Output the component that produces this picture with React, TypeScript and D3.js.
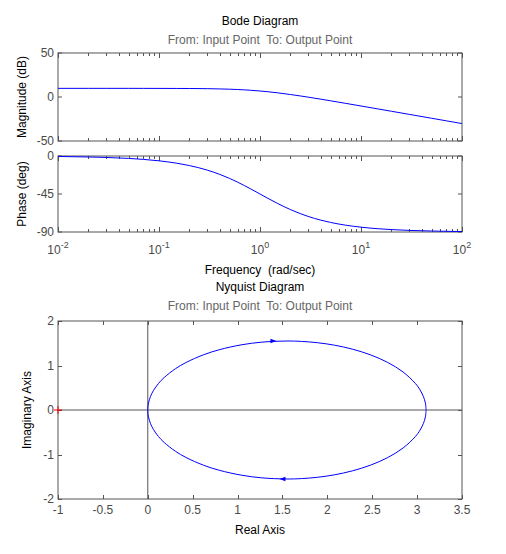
import React from "react";
import * as d3 from "d3";

// ---- Data ----
const freqs = [0.01, 0.02, 0.03, 0.05, 0.07, 0.1, 0.15, 0.2, 0.3, 0.4, 0.5, 0.6, 0.7, 0.8, 1, 1.2, 1.5, 2, 2.5, 3, 4, 5, 7, 10, 15, 20, 30, 50, 70, 100];
const magnitudeDb = [9.83, 9.83, 9.82, 9.82, 9.81, 9.78, 9.73, 9.66, 9.45, 9.18, 8.86, 8.49, 8.1, 7.68, 6.82, 5.95, 4.71, 2.84, 1.22, -0.17, -2.48, -4.32, -7.16, -10.22, -13.71, -16.2, -19.72, -24.15, -27.08, -30.17];
const phaseDeg = [-0.57, -1.15, -1.72, -2.86, -4.0, -5.71, -8.53, -11.31, -16.7, -21.8, -26.57, -30.96, -34.99, -38.66, -45, -50.19, -56.31, -63.43, -68.2, -71.57, -75.96, -78.69, -81.87, -84.29, -86.19, -87.14, -88.09, -88.85, -89.18, -89.43];

// Nyquist, positive frequencies (lower half)
const nyqReal = [3.1, 3.0923, 3.0693, 3.0318, 2.9808, 2.844, 2.6724, 2.48, 2.2794, 2.0805, 1.8902, 1.7127, 1.55, 1.2705, 1.0473, 0.7969, 0.62, 0.4276, 0.31, 0.1824, 0.1192, 0.062, 0.0307, 0.0077, 0.00124, 0];
const nyqImag = [0, -0.1546, -0.3069, -0.4548, -0.5962, -0.8532, -1.069, -1.24, -1.3676, -1.4564, -1.5122, -1.5414, -1.55, -1.5246, -1.4662, -1.3548, -1.24, -1.069, -0.93, -0.7294, -0.5962, -0.434, -0.3069, -0.1546, -0.062, 0];
const arrowRe = [1.4, 1.5];
const arrowIm = [1.55, -1.55];
const arrowDir = [1, -1];

const magTicks = [50, 0, -50];
const phaseTicks = [0, -45, -90];
const bodeDecades = [-2, -1, 0, 1, 2];
const nyqXTicks = [-1, -0.5, 0, 0.5, 1, 1.5, 2, 2.5, 3, 3.5];
const nyqYTicks = [2, 1, 0, -1, -2];

const FONT = "'Liberation Sans', Arial, sans-serif";
const FRAME = "#555555";
const TICKTXT = "#4a4a4a";
const SUB = "#666666";
const BLUE = "#0000ff";
const FS = 12;

export default function App() {
  const L = 58, R = 462;
  const xB = d3.scaleLog().domain([0.01, 100]).range([L, R]);
  const yMag = d3.scaleLinear().domain([-50, 50]).range([141, 53]);
  const yPh = d3.scaleLinear().domain([-90, 0]).range([232, 156]);
  const xN = d3.scaleLinear().domain([-1, 3.5]).range([L, R]);
  const yN = d3.scaleLinear().domain([-2, 2]).range([499, 321]);

  const magLine = d3.line<number>().x((_, i) => xB(freqs[i])).y((d) => yMag(d)).curve(d3.curveMonotoneX);
  const phLine = d3.line<number>().x((_, i) => xB(freqs[i])).y((d) => yPh(d)).curve(d3.curveMonotoneX);

  const lower = nyqReal.map((r, i) => [r, nyqImag[i]] as [number, number]);
  const upper = lower.slice().reverse().map(([r, im]) => [r, -im] as [number, number]);
  const nyqLine = d3.line<[number, number]>().x((d) => xN(d[0])).y((d) => yN(d[1])).curve(d3.curveCatmullRom);

  const logTicks = xB.ticks();
  const isMajor = (v: number) => Math.abs(Math.log10(v) - Math.round(Math.log10(v))) < 1e-6;

  const bodeFrame = (y0: number, y1: number, key: string, yTickVals: number[], ys: (v: number) => number) => (
    <g key={key}>
      <rect x={L} y={y0} width={R - L} height={y1 - y0} fill="white" stroke={FRAME} strokeWidth={1} />
      {logTicks.map((v, i) => {
        const x = Math.round(xB(v)) + 0.5;
        const len = isMajor(v) ? 5 : 3;
        return (
          <g key={i}>
            <line x1={x} x2={x} y1={y0} y2={y0 + len} stroke={FRAME} />
            <line x1={x} x2={x} y1={y1} y2={y1 - len} stroke={FRAME} />
          </g>
        );
      })}
      {yTickVals.map((v, i) => (
        <g key={"y" + i}>
          <line x1={L} x2={L + 4} y1={ys(v)} y2={ys(v)} stroke={FRAME} />
          <line x1={R} x2={R - 4} y1={ys(v)} y2={ys(v)} stroke={FRAME} />
          <text x={L - 4} y={ys(v) + 4.3} textAnchor="end" fontSize={FS} fill={TICKTXT} fontFamily={FONT}>{v}</text>
        </g>
      ))}
    </g>
  );

  const arrowPath = (re: number, im: number, dir: number) => {
    const x = xN(re), y = yN(im);
    const l = 6, w = 2.2;
    return `M${x + dir * l / 2},${y} L${x - dir * l / 2},${y - w} L${x - dir * l / 2},${y + w} Z`;
  };

  return (
    <svg width={506} height={554} style={{ position: "absolute", left: 0, top: 0, background: "white" }} fontFamily={FONT}>
      <rect x={0} y={0} width={506} height={554} fill="white" />
      {/* Bode */}
      <text x={260} y={25} textAnchor="middle" fontSize={FS} fill="#000">Bode Diagram</text>
      <text x={260} y={43.5} textAnchor="middle" fontSize={FS} fill={SUB} xmlSpace="preserve">From: Input Point  To: Output Point</text>

      {bodeFrame(53, 141, "mag", magTicks, yMag)}
      <path d={magLine(magnitudeDb) || ""} fill="none" stroke={BLUE} strokeWidth={1} />

      {bodeFrame(156, 232, "ph", phaseTicks, yPh)}
      <path d={phLine(phaseDeg) || ""} fill="none" stroke={BLUE} strokeWidth={1} />

      {bodeDecades.map((d) => (
        <text key={d} x={xB(Math.pow(10, d))} y={254} textAnchor="middle" fontSize={FS} fill={TICKTXT}>
          10<tspan dy={-6} fontSize={9}>{d}</tspan>
        </text>
      ))}

      <text transform="translate(26,97) rotate(-90)" textAnchor="middle" fontSize={FS} fill="#000">Magnitude (dB)</text>
      <text transform="translate(26,194) rotate(-90)" textAnchor="middle" fontSize={FS} fill="#000">Phase (deg)</text>
      <text x={260} y={274} textAnchor="middle" fontSize={FS} fill="#000" xmlSpace="preserve">Frequency  (rad/sec)</text>

      {/* Nyquist */}
      <text x={260} y={291} textAnchor="middle" fontSize={FS} fill="#000">Nyquist Diagram</text>
      <text x={260} y={310} textAnchor="middle" fontSize={FS} fill={SUB} xmlSpace="preserve">From: Input Point  To: Output Point</text>
      <rect x={L} y={321} width={R - L} height={499 - 321} fill="white" stroke={FRAME} strokeWidth={1} />
      <line x1={xN(0)} x2={xN(0)} y1={321} y2={499} stroke={FRAME} />
      <line x1={L} x2={R} y1={yN(0)} y2={yN(0)} stroke={FRAME} />
      {nyqXTicks.map((v, i) => {
        const x = Math.round(xN(v)) + 0.5;
        return (
          <g key={"nx" + i}>
            <line x1={x} x2={x} y1={321} y2={325} stroke={FRAME} />
            <line x1={x} x2={x} y1={499} y2={495} stroke={FRAME} />
            <text x={xN(v)} y={514} textAnchor="middle" fontSize={FS} fill={TICKTXT}>{v}</text>
          </g>
        );
      })}
      {nyqYTicks.map((v, i) => {
        const y = Math.round(yN(v)) + 0.5;
        return (
          <g key={"ny" + i}>
            <line x1={L} x2={L + 4} y1={y} y2={y} stroke={FRAME} />
            <line x1={R} x2={R - 4} y1={y} y2={y} stroke={FRAME} />
            <text x={L - 4} y={yN(v) + 4.3} textAnchor="end" fontSize={FS} fill={TICKTXT}>{v}</text>
          </g>
        );
      })}
      <path d={nyqLine(lower) || ""} fill="none" stroke={BLUE} strokeWidth={1} />
      <path d={nyqLine(upper) || ""} fill="none" stroke={BLUE} strokeWidth={1} />
      {arrowRe.map((re, i) => (
        <path key={"a" + i} d={arrowPath(re, arrowIm[i], arrowDir[i])} fill={BLUE} stroke="none" />
      ))}
      <line x1={xN(-1) - 4} x2={xN(-1) + 4} y1={yN(0)} y2={yN(0)} stroke="red" />
      <line x1={xN(-1)} x2={xN(-1)} y1={yN(0) - 4} y2={yN(0) + 4} stroke="red" />
      <text transform="translate(31,410) rotate(-90)" textAnchor="middle" fontSize={FS} fill="#000">Imaginary Axis</text>
      <text x={260} y={534} textAnchor="middle" fontSize={FS} fill="#000">Real Axis</text>
    </svg>
  );
}
